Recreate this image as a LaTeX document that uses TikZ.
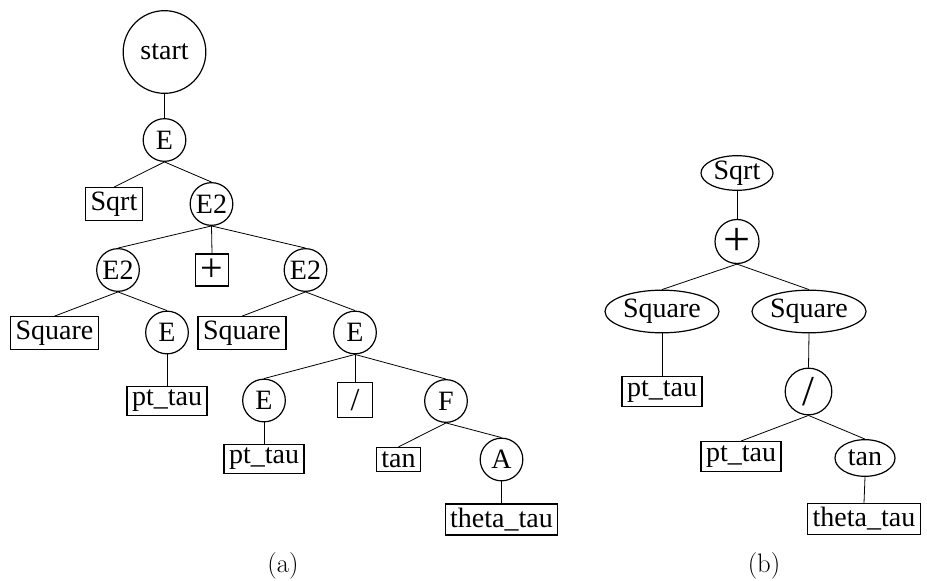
\documentclass[tikz,border=0pt]{standalone}
\usepackage{fontspec}
\newfontfamily\treefont{Liberation Serif}
\usetikzlibrary{shapes.geometric}

\begin{document}
\begin{tikzpicture}[x=0.75pt, y=-0.75pt]
        \tikzstyle{every node}=[draw=black, line width=0.9pt, inner sep=0pt, font=\treefont\fontsize{21}{25}\selectfont, text=black]
        \tikzstyle{nt}=[circle, minimum size=32pt]
        \tikzstyle{term}=[rectangle, inner xsep=3.8pt, inner ysep=3pt]
        \tikzstyle{op}=[ellipse]
        \tikzstyle{edge}=[black, line width=0.6pt]
        \tikzstyle{caption}=[draw=none, font=\fontsize{20}{24}\selectfont]

        \useasboundingbox (0,0) rectangle (927,581);

        % (a) derivation tree
        \node[nt, minimum size=62pt] (start) at (164.5,52) {start};
        \node[nt] (e1)    at (164.5,140)   {E};
        \node[term] (sqrt)  at (114,204)   {Sqrt};
        \node[nt] (e2)    at (211.5,204)   {E2};
        \node[nt] (e2l)   at (118,270)     {E2};
        \node[term, minimum size=24pt, font=\treefont\fontsize{30}{30}\selectfont] (plus) at (212,270) {+};
        \node[nt] (e2r)   at (305.5,270)   {E2};
        \node[term] (squareL) at (54.5,333) {Square};
        \node[nt] (eL)    at (167,332.5)   {E};
        \node[term] (pttauL)  at (167,401) {pt\_tau};
        \node[term] (squareR) at (242,333) {Square};
        \node[nt] (eR)    at (355,332.5)   {E};
        \node[nt] (eLL)   at (264,400.5)   {E};
        \node[term, minimum size=26pt, font=\treefont\fontsize{24}{24}\selectfont] (slash) at (355,400) {/};
        \node[nt] (f)     at (446,401)     {F};
        \node[term] (pttauLL) at (264,459) {pt\_tau};
        \node[term] (tan)   at (398.5,459.5) {tan};
        \node[nt] (a)     at (501.5,459.5) {A};
        \node[term] (theta) at (501.5,519.5) {theta\_tau};

        \draw[edge] (start.south) -- (e1.north);
        \draw[edge] (e1.south) -- (sqrt.north);
        \draw[edge] (e1.south) -- (e2.north);
        \draw[edge] (e2.south) -- (e2l.north);
        \draw[edge] (e2.south) -- (plus.north);
        \draw[edge] (e2.south) -- (e2r.north);
        \draw[edge] (e2l.south) -- (squareL.north);
        \draw[edge] (e2l.south) -- (eL.north);
        \draw[edge] (eL.south) -- (pttauL.north);
        \draw[edge] (e2r.south) -- (squareR.north);
        \draw[edge] (e2r.south) -- (eR.north);
        \draw[edge] (eR.south) -- (eLL.north);
        \draw[edge] (eR.south) -- (slash.north);
        \draw[edge] (eR.south) -- (f.north);
        \draw[edge] (eLL.south) -- (pttauLL.north);
        \draw[edge] (f.south) -- (tan.north);
        \draw[edge] (f.south) -- (a.north);
        \draw[edge] (a.south) -- (theta.north);

        % (b) expression tree
        \node[op, minimum width=54pt, minimum height=22.5pt] (sqrtB) at (737,173) {Sqrt};
        \node[nt, minimum size=33pt, font=\treefont\fontsize{36}{36}\selectfont] (plusB) at (737,241.5) {+};
        \node[op, minimum width=85.5pt, minimum height=32pt] (squareBL) at (662,311.5) {Square};
        \node[op, minimum width=85.5pt, minimum height=32pt] (squareBR) at (809,311.5) {Square};
        \node[term] (pttauB)  at (662,391.5) {pt\_tau};
        \node[nt, minimum size=35pt, font=\treefont\fontsize{32}{32}\selectfont] (slashB) at (808.5,391.5) {/};
        \node[term] (pttauBB) at (741,456.5) {pt\_tau};
        \node[op, minimum width=45pt, minimum height=27.5pt] (tanB) at (865,458) {tan};
        \node[term] (thetaB)  at (864,519) {theta\_tau};

        \draw[edge] (sqrtB.south) -- (plusB.north);
        \draw[edge] (plusB.south) -- (squareBL.north);
        \draw[edge] (plusB.south) -- (squareBR.north);
        \draw[edge] (squareBL.south) -- (pttauB.north);
        \draw[edge] (squareBR.south) -- (slashB.north);
        \draw[edge] (slashB.south) -- (pttauBB.north);
        \draw[edge] (slashB.south) -- (tanB.north);
        \draw[edge] (tanB.south) -- (thetaB.north);

        \node[caption] (capA) at (283,566) {(a)};
        \node[caption] (capB) at (764,566) {(b)};
    \end{tikzpicture}
\end{document}
